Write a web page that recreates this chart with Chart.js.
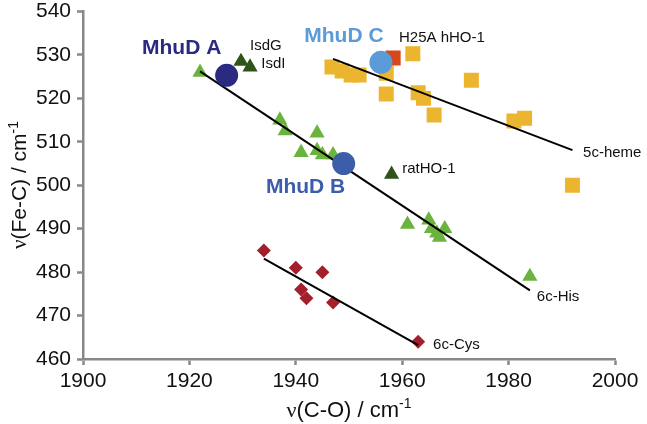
<!DOCTYPE html>
<html lang="en">
<head>
<meta charset="UTF-8">
<title>Fe-C vs C-O correlation</title>
<script src="https://cdn.jsdelivr.net/npm/chart.js@4.4.0/dist/chart.umd.min.js"></script>
<style>
  html, body { margin: 0; padding: 0; background: #fff; }
  #wrap { width: 647px; height: 424px; }
</style>
</head>
<body>
<div id="wrap"><canvas id="c" width="647" height="424"></canvas></div>
<script>
// axis ticks
const xTicks = [1900, 1920, 1940, 1960, 1980, 2000];
const yTicks = [460, 470, 480, 490, 500, 510, 520, 530, 540];

// 6c-His (light green triangles)
const hisCO  = [1922, 1937, 1938, 1944, 1941, 1944, 1945, 1947, 1961, 1965, 1965.5, 1966.5, 1967, 1968, 1984];
const hisFeC = [526, 515, 512.5, 512, 507.5, 508, 507, 507, 491, 492, 490, 489, 488, 490, 479];

// IsdG, IsdI, ratHO-1 (dark green triangles)
const isdCO  = [1929.7, 1931.4, 1958];
const isdFeC = [528.5, 527.2, 502.5];

// 5c-heme (yellow squares)
const hemeCO  = [1946.8, 1948.7, 1950.4, 1951.9, 1957, 1957, 1962, 1963, 1964, 1966, 1973, 1981, 1983, 1992];
const hemeFeC = [527.2, 526.3, 525.4, 525.4, 525.8, 521, 530.3, 521.3, 520, 516.2, 524.2, 514.8, 515.4, 500];

// H25A hHO-1 (red square)
const h25aCO  = [1958.3];
const h25aFeC = [529.3];

// 6c-Cys (red diamonds)
const cysCO  = [1934, 1940, 1945, 1941, 1942, 1947, 1963];
const cysFeC = [485, 481, 480, 476, 474, 473, 464];

// MhuD A, B, C
const mhudNames = ['MhuD A', 'MhuD B', 'MhuD C'];
const mhudCO  = [1927, 1949, 1956];
const mhudFeC = [525.3, 505, 528.3];

// fit lines (end points)
const hisLineCO  = [1922, 1984];
const hisLineFeC = [526.2, 475.8];
const hemeLineCO  = [1947, 1992];
const hemeLineFeC = [529.1, 508.1];
const cysLineCO  = [1934, 1963];
const cysLineFeC = [483.1, 463.2];

function pts(xs, ys) { return xs.map((x, i) => ({ x: x, y: ys[i] })); }

const SANS = '"Liberation Sans", Arial, sans-serif';
const SERIF = '"Liberation Serif", "Times New Roman", serif';
const mhudColors = ['#2A2A80', '#3C5DAA', '#5B9BD8'];

// text labels, anchored in data units
const notes = [
  { t: mhudNames[0], x: 1926, y: 531.6, align: 'right', color: mhudColors[0], bold: true },
  { t: mhudNames[1], x: 1949.3, y: 499.5, align: 'right', color: mhudColors[1], bold: true },
  { t: mhudNames[2], x: 1956.5, y: 534.4, align: 'right', color: mhudColors[2], bold: true },
  { t: 'H25A hHO-1', x: 1959.4, y: 534, align: 'left' },
  { t: 'IsdG', x: 1931.4, y: 532, align: 'left' },
  { t: 'IsdI', x: 1933.5, y: 528, align: 'left' },
  { t: 'ratHO-1', x: 1960, y: 503.8, align: 'left' },
  { t: '5c-heme', x: 1994, y: 507.4, align: 'left' },
  { t: '6c-His', x: 1985.3, y: 474.2, align: 'left' },
  { t: '6c-Cys', x: 1965.8, y: 463.2, align: 'left' }
];

function drawParts(ctx, parts, size) {
  let total = 0;
  parts.forEach(p => {
    ctx.font = (p.sup ? Math.round(size * 0.65) : size) + 'px ' + (p.serif ? SERIF : SANS);
    p.w = ctx.measureText(p.t).width;
    total += p.w;
  });
  let x = -total / 2;
  parts.forEach(p => {
    ctx.font = (p.sup ? Math.round(size * 0.65) : size) + 'px ' + (p.serif ? SERIF : SANS);
    ctx.fillText(p.t, x, p.sup ? -size * 0.4 : 0);
    x += p.w;
  });
}

const textPlugin = {
  id: 'texts',
  afterDatasetsDraw(chart) {
    const ctx = chart.ctx;
    const xs = chart.scales.x, ys = chart.scales.y;
    ctx.save();
    ctx.textBaseline = 'middle';
    notes.forEach(n => {
      ctx.font = (n.bold ? 'bold 21px ' : '15px ') + SANS;
      ctx.fillStyle = n.color || '#111';
      ctx.textAlign = n.align;
      ctx.fillText(n.t, xs.getPixelForValue(n.x), ys.getPixelForValue(n.y));
    });
    // axis titles
    ctx.fillStyle = '#111';
    ctx.textAlign = 'left';
    ctx.textBaseline = 'alphabetic';
    ctx.save();
    ctx.translate((xs.left + xs.right) / 2, 417);
    drawParts(ctx, [{ t: 'ν', serif: true }, { t: '(C-O) / cm' }, { t: '-1', sup: true }], 22);
    ctx.restore();
    ctx.save();
    ctx.translate(26, 185);
    ctx.rotate(-Math.PI / 2);
    drawParts(ctx, [{ t: 'ν', serif: true }, { t: '(Fe-C) / cm' }, { t: '-1', sup: true }], 21);
    ctx.restore();
    ctx.restore();
  }
};

const lineStyle = { showLine: true, pointRadius: 0, borderColor: '#000', borderWidth: 2, fill: false };

const ctx = document.getElementById('c').getContext('2d');
const chart = new Chart(ctx, {
  type: 'scatter',
  data: {
    datasets: [
      // circles on top
      { label: 'MhuD', data: pts(mhudCO, mhudFeC), pointStyle: 'circle', pointRadius: 11.5,
        backgroundColor: mhudColors, borderWidth: 0 },
      Object.assign({ label: '6c-His fit', data: pts(hisLineCO, hisLineFeC) }, lineStyle),
      Object.assign({ label: '5c-heme fit', data: pts(hemeLineCO, hemeLineFeC) }, lineStyle),
      Object.assign({ label: '6c-Cys fit', data: pts(cysLineCO, cysLineFeC) }, lineStyle),
      { label: 'H25A hHO-1', data: pts(h25aCO, h25aFeC), pointStyle: 'rect', pointRadius: 10.6,
        backgroundColor: '#D8461C', borderWidth: 0 },
      { label: 'Isd / ratHO-1', data: pts(isdCO, isdFeC), pointStyle: 'triangle', pointRadius: 8.8,
        backgroundColor: '#2F5318', borderWidth: 0 },
      { label: '6c-His', data: pts(hisCO, hisFeC), pointStyle: 'triangle', pointRadius: 8.8,
        backgroundColor: '#6BB33F', borderWidth: 0 },
      { label: '5c-heme', data: pts(hemeCO, hemeFeC), pointStyle: 'rect', pointRadius: 10.6,
        backgroundColor: '#EBB52F', borderWidth: 0 },
      { label: '6c-Cys', data: pts(cysCO, cysFeC), pointStyle: 'rectRot', pointRadius: 7,
        backgroundColor: '#A31F2B', borderWidth: 0 }
    ]
  },
  options: {
    responsive: false,
    animation: false,
    layout: { padding: { left: 0, right: 32, top: 10, bottom: 0 } },
    plugins: { legend: { display: false }, tooltip: { enabled: false } },
    scales: {
      x: {
        type: 'linear', min: 1900, max: 2000,
        afterFit: s => { s.height = 65; s.paddingLeft = 0; s.paddingRight = 0; },
        afterBuildTicks: s => { s.ticks = xTicks.map(v => ({ value: v })); },
        border: { color: '#888', width: 2.5 },
        grid: { drawOnChartArea: false, drawTicks: true, tickLength: 6, tickColor: '#888', tickWidth: 2.5 },
        ticks: { color: '#111', padding: 4, font: { family: SANS, size: 21 }, callback: v => String(v) }
      },
      y: {
        type: 'linear', min: 460, max: 540,
        afterFit: s => { s.width = 83; s.paddingTop = 0; s.paddingBottom = 0; },
        afterBuildTicks: s => { s.ticks = yTicks.map(v => ({ value: v })); },
        border: { color: '#888', width: 2.5 },
        grid: { drawOnChartArea: false, drawTicks: true, tickLength: 6, tickColor: '#888', tickWidth: 2.5 },
        ticks: { color: '#111', padding: 6, font: { family: SANS, size: 21 }, callback: v => String(v) }
      }
    }
  },
  plugins: [textPlugin]
});
</script>
</body>
</html>
